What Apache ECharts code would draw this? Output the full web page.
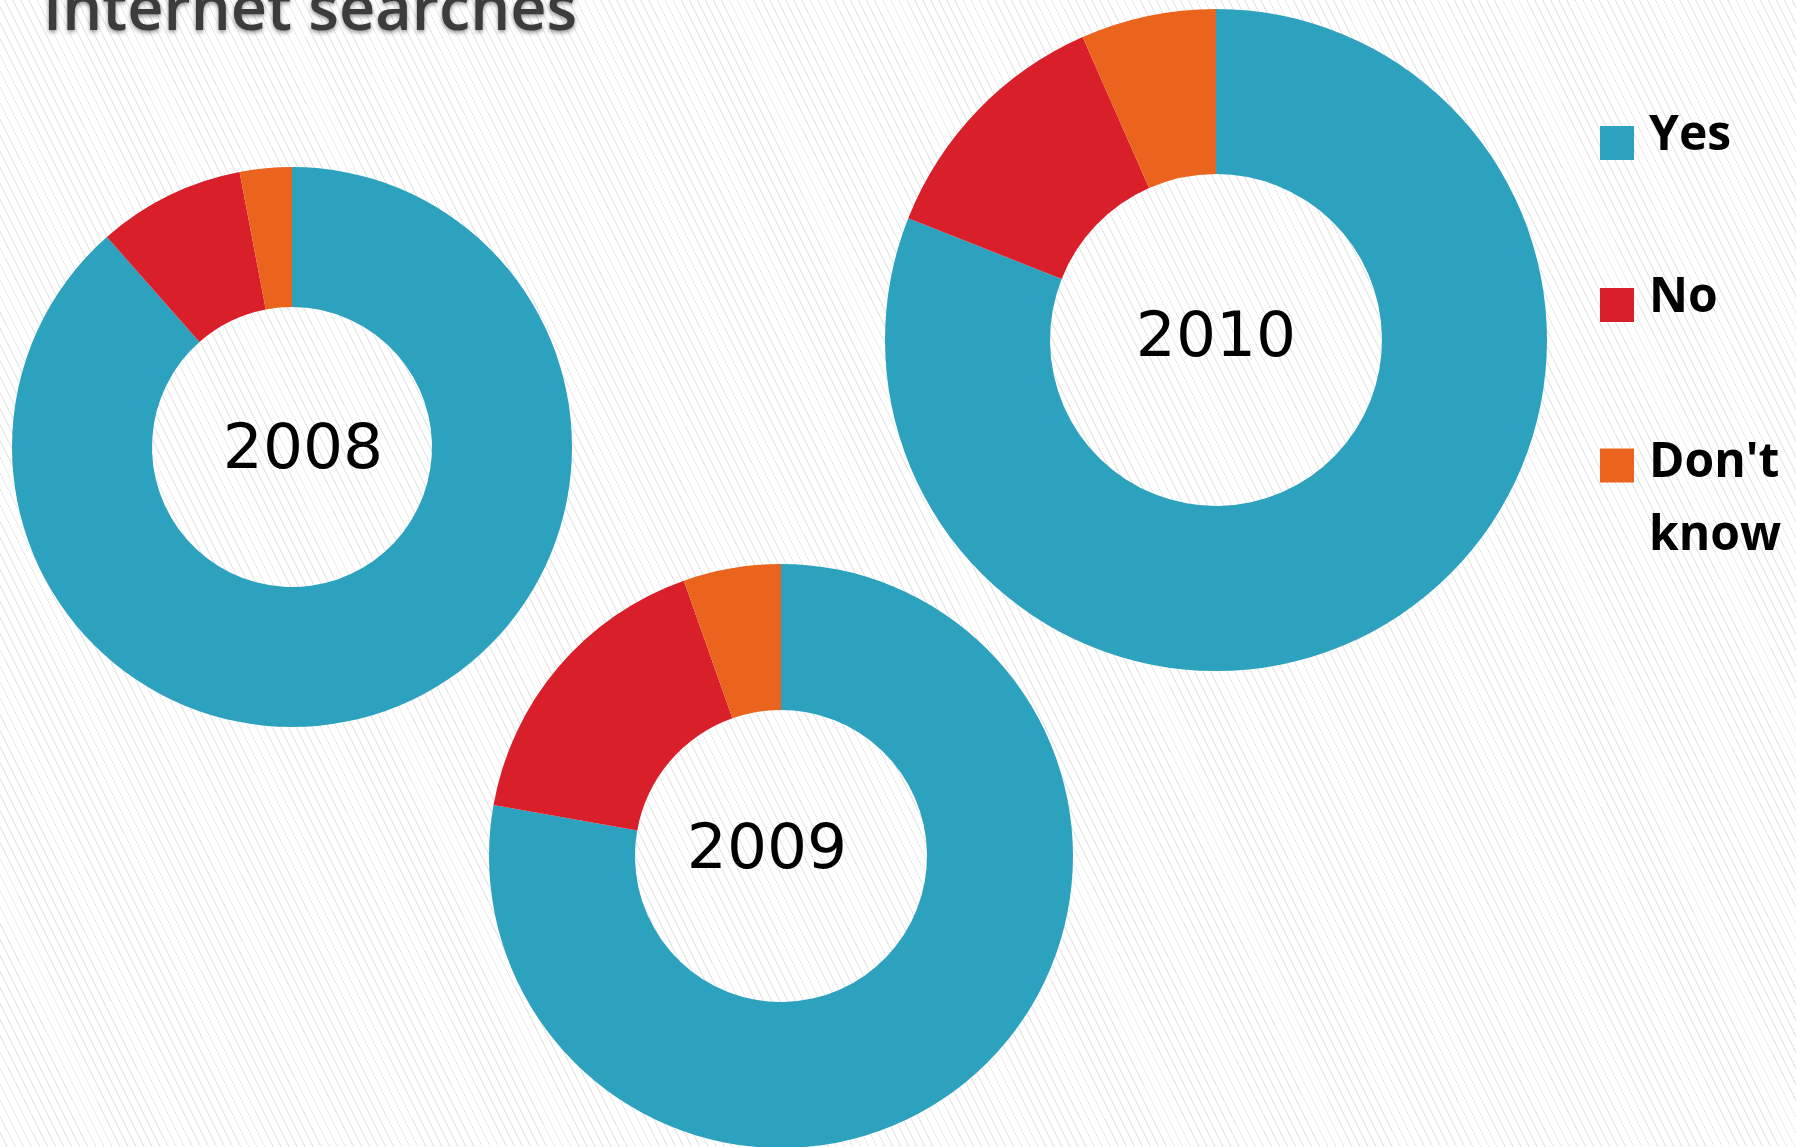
<!DOCTYPE html>
<html>
<head>
<meta charset="utf-8">
<title>Internet searches</title>
<script src="https://cdn.jsdelivr.net/npm/echarts@6/dist/echarts.min.js"></script>
<style>
  html, body {
    margin: 0;
    padding: 0;
    width: 1796px;
    height: 1147px;
    overflow: hidden;
    background: #fff repeating-linear-gradient(63.4deg, #ffffff 0px, #ffffff 6px, #e9e9e9 6px, #e9e9e9 7.2px);
  }
  #chart { width: 1796px; height: 1147px; }
</style>
</head>
<body>
<!-- 三个环形图 + 右侧图例 -->
<div id="chart"></div>
<script>
// 数据
var categories = ["Yes", "No", "Don't know"];
var years = ["2008", "2009", "2010"];
var yesValues = [88.5, 77.8, 81.0];
var noValues = [8.5, 16.8, 12.4];
var dontKnowValues = [3.0, 5.4, 6.6];

var colors = ["#2ca2bf", "#d91f2a", "#ea641e"];

// 每个环的位置和大小
var rings = [
  { center: [292, 447], radius: [140, 280], label: [303, 452] },
  { center: [781, 856], radius: [146, 292], label: [767, 852] },
  { center: [1216, 340], radius: [166, 331], label: [1216, 340] }
];

var chart = echarts.init(document.getElementById("chart"));

var series = [];
var graphics = [];
for (var i = 0; i < years.length; i++) {
  series.push({
    name: years[i],
    type: "pie",
    center: rings[i].center,
    radius: rings[i].radius,
    startAngle: 90,
    clockwise: true,
    label: { show: false },
    labelLine: { show: false },
    emphasis: { scale: false },
    itemStyle: { borderWidth: 0 },
    data: [
      { name: categories[0], value: yesValues[i] },
      { name: categories[1], value: noValues[i] },
      { name: categories[2], value: dontKnowValues[i] }
    ]
  });
  graphics.push({
    type: "text",
    x: rings[i].label[0],
    y: rings[i].label[1],
    style: {
      text: years[i],
      align: "center",
      verticalAlign: "middle",
      fill: "#000",
      font: "63px 'DejaVu Sans'"
    }
  });
}

// 标题（上半部分被裁掉）
graphics.push({
  type: "text",
  x: 43,
  y: 12,
  style: {
    text: "Internet searches",
    align: "left",
    verticalAlign: "middle",
    fill: "#3c3c3c",
    font: "600 63px 'Open Sans'",
    textShadowColor: "rgba(0,0,0,0.45)",
    textShadowBlur: 4,
    textShadowOffsetY: 2
  }
});

var legendText = {
  color: "#000",
  fontFamily: "Open Sans",
  fontWeight: "bold",
  fontSize: 48,
  lineHeight: 34
};

// 图标用路径画：方块 + 不可见的点撑开图标框，用来调文字位置
var iconOneLine = "path://M0,0L0,0.01M44,0L44,0.01M0,14H34V48H0Z";
var iconTwoLine = "path://M0,0L0,0.01M44,107L44,107.01M0,2H34V36H0Z";

function oneLegend(name, top, icon, h, extra) {
  return {
    orient: "vertical",
    left: 1600,
    top: top,
    padding: 0,
    itemWidth: 44,
    itemHeight: h,
    itemGap: 10,
    icon: icon,
    symbolKeepAspect: false,
    selectedMode: false,
    itemStyle: { borderWidth: 0 },
    textStyle: Object.assign({}, legendText, extra || {}),
    formatter: function (n) {
      return n === "Don't know" ? "Don't\nknow" : n;
    },
    data: [name]
  };
}

chart.setOption({
  animation: false,
  backgroundColor: "transparent",
  color: colors,
  legend: [
    oneLegend(categories[0], 112, iconOneLine, 48),
    oneLegend(categories[1], 274, iconOneLine, 48),
    oneLegend(categories[2], 427, iconTwoLine, 107, { lineHeight: 73 })
  ],
  graphic: graphics,
  series: series
});

window.addEventListener("resize", function () {
  chart.resize();
});
</script>
</body>
</html>
